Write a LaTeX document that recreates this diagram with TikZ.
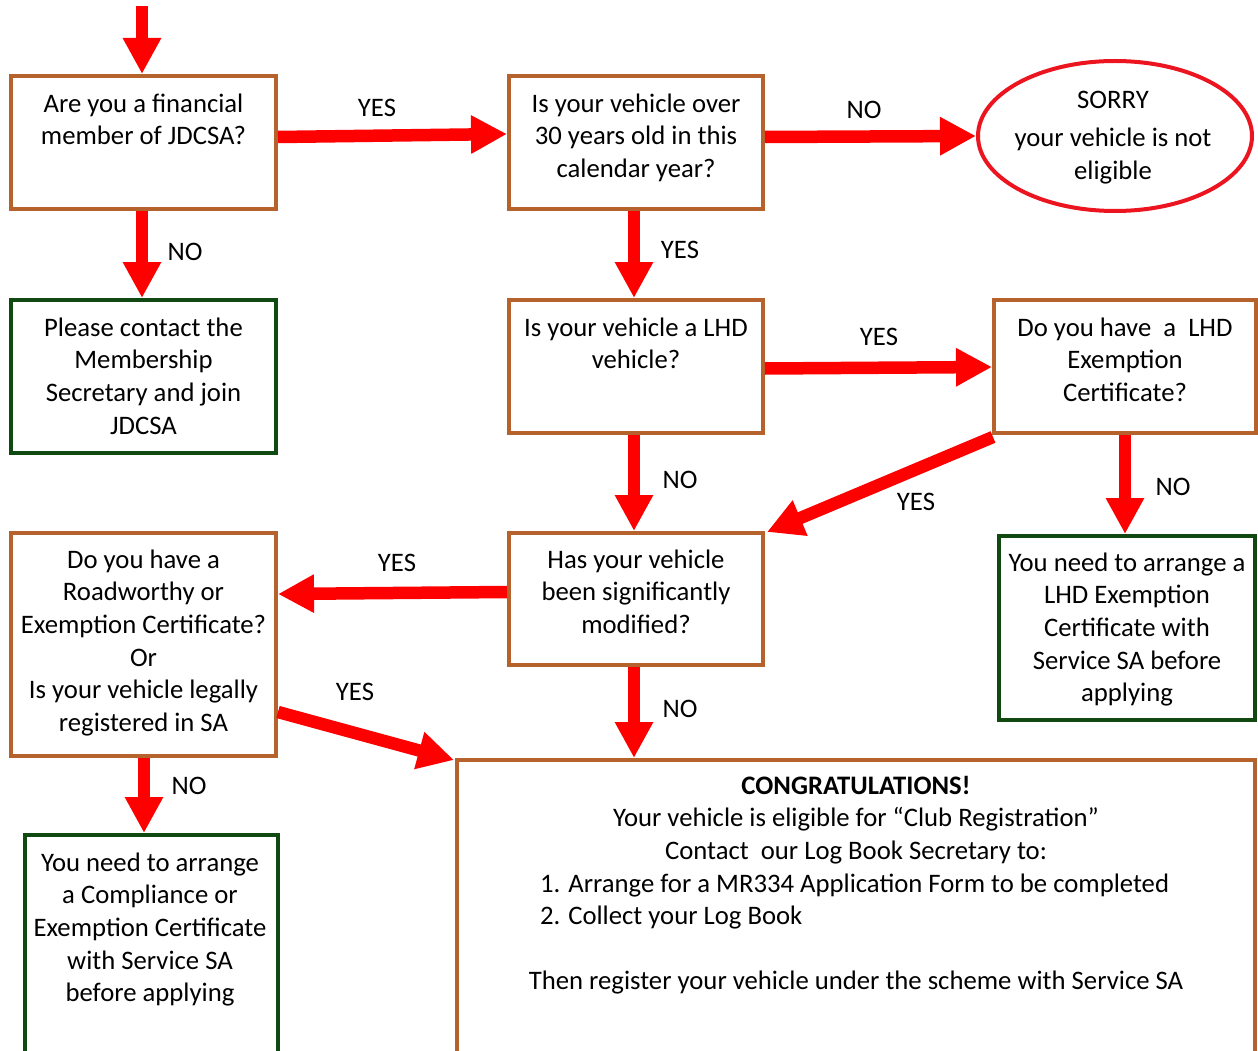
\documentclass[tikz,border=0pt]{standalone}
\usepackage{fontspec}
\setmainfont{Carlito}
\usetikzlibrary{arrows.meta,shapes.geometric}
\definecolor{boxbrown}{RGB}{182,98,45}
\definecolor{boxgreen}{RGB}{16,74,18}
\definecolor{ovalred}{RGB}{236,20,30}
\tikzset{
  qbox/.style={draw=boxbrown, line width=4pt, rectangle, inner sep=0pt, anchor=north west},
  abox/.style={draw=boxgreen, line width=4pt, rectangle, inner sep=0pt, anchor=north west},
  txt/.style={align=center, anchor=north, inner sep=0pt, font=\fontsize{26.7}{32.6}\selectfont},
  lbl/.style={inner sep=0pt, font=\fontsize{26.7}{32.6}\selectfont},
  arr/.style={draw=red, line width=12.5pt, -{Triangle[width=36pt,length=36pt]}}
}
\newcommand{\fl}{\rule{0pt}{20pt}}
\begin{document}
\begin{tikzpicture}[x=1pt,y=-1pt]
\useasboundingbox (0,0) rectangle (1258,1051);
\clip (0,0) rectangle (1258,1051);
% boxes
\node[qbox, minimum width=265pt, minimum height=133pt] (q1) at (9,74) {};
\node[qbox, minimum width=254pt, minimum height=133pt] (q2) at (507,74) {};
\node[draw=ovalred, line width=4pt, ellipse, minimum width=274pt, minimum height=150pt, inner sep=0pt] (sorry) at (1115,136) {};
\node[abox, minimum width=265pt, minimum height=153pt] (a1) at (9,298) {};
\node[qbox, minimum width=254pt, minimum height=133pt] (q3) at (507,298) {};
\node[qbox, minimum width=262pt, minimum height=133pt] (q4) at (992,298) {};
\node[qbox, minimum width=265pt, minimum height=223pt] (q6) at (9,531) {};
\node[qbox, minimum width=254pt, minimum height=132pt] (q5) at (507,531) {};
\node[abox, minimum width=256pt, minimum height=184pt] (a2) at (997,534) {};
\node[qbox, minimum width=798pt, minimum height=340pt] (c) at (455,758) {};
\node[abox, minimum width=253pt, minimum height=265pt] (a3) at (23,833) {};
% texts
\node[txt] (q1t) at (143.5,92) {\fl Are you a financial\\member of JDCSA?};
\node[txt] (q2t) at (636,92) {\fl Is your vehicle over\\30 years old in this\\calendar year?};
\node[txt] (sorryt) at (1113,88) {\fl SORRY\\[6pt]your vehicle is not\\eligible};
\node[txt] (a1t) at (143.5,316) {\fl Please contact the\\Membership\\Secretary and join\\JDCSA};
\node[txt] (q3t) at (636,316) {\fl Is your vehicle a LHD\\vehicle?};
\node[txt] (q4t) at (1125,316) {\fl Do you have\ \ a\ \ LHD\\Exemption\\Certificate?};
\node[txt] (q6t) at (143.5,548) {\fl Do you have a\\Roadworthy or\\Exemption Certificate?\\Or\\Is your vehicle legally\\registered in SA};
\node[txt] (q5t) at (636,548) {\fl Has your vehicle\\been significantly\\modified?};
\node[txt] (a2t) at (1127,551) {\fl You need to arrange a\\LHD Exemption\\Certificate with\\Service SA before\\applying};
\node[txt] (ct) at (856,774) {\fl\textbf{CONGRATULATIONS!}\\Your vehicle is eligible for “Club Registration”\\Contact\ \ our Log Book Secretary to:\\\makebox[632pt][l]{1. Arrange for a MR334 Application Form to be completed}\\\makebox[632pt][l]{2. Collect your Log Book}\\ \\Then register your vehicle under the scheme with Service SA};
\node[txt] (a3t) at (150,851) {\fl You need to arrange\\a Compliance or\\Exemption Certificate\\with Service SA\\before applying};
% connectors
\coordinate (start) at (142,6);
\draw[arr] (start) -- (start |- q1.north);
\draw[arr] ([yshift=5.5pt]q1.east) -- ([yshift=8.5pt]q2.west);
\draw[arr] ([yshift=5.5pt]q2.east) -- (sorry.west);
\draw[arr] ([xshift=-1.5pt]q1.south) -- ([xshift=-1.5pt]a1.north);
\draw[arr] ([xshift=-2pt]q2.south) -- ([xshift=-2pt]q3.north);
\draw[arr] ([yshift=-2pt]q3.east) -- ([yshift=-0.5pt]q4.west);
\draw[arr] ([xshift=-2pt]q3.south) -- ([xshift=-2pt]q5.north);
\draw[arr] ([shift={(1pt,-2pt)}]q4.south west) -- ([shift={(2pt,-1pt)}]q5.north east);
\draw[arr] (q4.south) -- (q4.south |- a2.north);
\draw[arr] ([yshift=7pt]q5.west) -- ([yshift=50.5pt]q6.east);
\draw[arr] ([yshift=-67.5pt]q6.east) -- ([shift={(-1pt,-2pt)}]c.north west);
\draw[arr] ([xshift=-2pt]q5.south) -- ([xshift=-2pt]q5.south |- c.north);
\draw[arr] ([xshift=0.5pt]q6.south) -- ([xshift=0.5pt]q6.south |- a3.north);
% labels
\node[lbl] (l1) at (377,108) {YES};
\node[lbl] (l2) at (864,110) {NO};
\node[lbl] (l3) at (185,252) {NO};
\node[lbl] (l4) at (680,250) {YES};
\node[lbl] (l5) at (879,337) {YES};
\node[lbl] (l6) at (680,480) {NO};
\node[lbl] (l7) at (916,502) {YES};
\node[lbl] (l8) at (1173,487) {NO};
\node[lbl] (l9) at (397,563) {YES};
\node[lbl] (l10) at (355,692) {YES};
\node[lbl] (l11) at (680,709) {NO};
\node[lbl] (l12) at (189,786) {NO};
\end{tikzpicture}
\end{document}
